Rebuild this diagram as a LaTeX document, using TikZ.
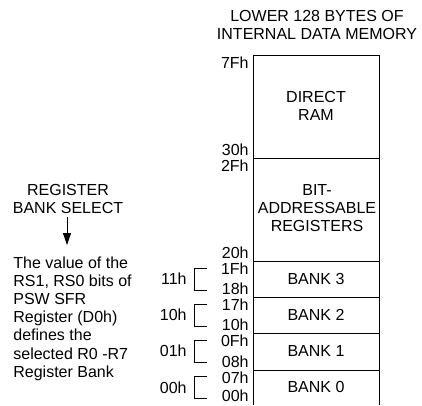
\documentclass[tikz,border=0pt]{standalone}
\usepackage{fontspec}
\setmainfont{Liberation Sans}
\usetikzlibrary{arrows.meta}
\tikzset{
  txt/.style={inner sep=0pt, font=\fontsize{16}{18.2}\selectfont},
  addr/.style={txt, anchor=east},
  area/.style={txt, align=center},
}
\begin{document}
\begin{tikzpicture}[x=1pt,y=-1pt,line width=.8pt]
\useasboundingbox (0,0) rectangle (422,405);
% title
\node[area] (title) at (317,25) {LOWER 128 BYTES OF\\INTERNAL DATA MEMORY};
% memory column
\draw (253,405) -- (253,55) -- (379,55) -- (379,405);
\draw (253,158) -- (379,158) (253,261) -- (379,261) (253,297) -- (379,297)
  (253,333) -- (379,333) (253,370) -- (379,370);
\node[area] (direct) at (316,106) {DIRECT\\RAM};
\node[area] (bitaddr) at (317,208) {BIT-\\ADDRESSABLE\\REGISTERS};
\node[area] (bank3) at (316,279) {BANK 3};
\node[area] (bank2) at (316,315) {BANK 2};
\node[area] (bank1) at (316,351) {BANK 1};
\node[area] (bank0) at (316,387) {BANK 0};
% addresses
\node[addr] (a7F) at (249,63) {7Fh}; \node[addr] (a30) at (249,150) {30h};
\node[addr] (a2F) at (249,166) {2Fh}; \node[addr] (a20) at (249,253) {20h};
\node[addr] (a1F) at (249,269) {1Fh}; \node[addr] (a18) at (249,289) {18h};
\node[addr] (a17) at (249,305) {17h}; \node[addr] (a10) at (249,325) {10h};
\node[addr] (a0F) at (249,341) {0Fh}; \node[addr] (a08) at (249,362) {08h};
\node[addr] (a07) at (249,378) {07h}; \node[addr] (a00) at (249,396) {00h};
% bank select brackets
\draw (207,268) -- (194,268) -- (194,290) -- (207,290); \node[addr] (s11) at (187,279) {11h};
\draw (207,304) -- (194,304) -- (194,326) -- (207,326); \node[addr] (s10) at (187,315) {10h};
\draw (207,340) -- (194,340) -- (194,362) -- (207,362); \node[addr] (s01) at (187,351) {01h};
\draw (207,376) -- (194,376) -- (194,398) -- (207,398); \node[addr] (s00) at (187,388) {00h};
% register bank select
\node[area] (select) at (68,199) {REGISTER\\BANK SELECT};
\coordinate (tip) at (67,245);
\draw[-{Triangle[width=8pt,length=12pt]}] (select.south -| tip) ++(0,3) -- (tip);
\node[txt, align=left, anchor=north west] (value) at (13,256)
  {The value of the\\RS1, RS0 bits of\\PSW SFR\\Register (D0h)\\defines the\\selected R0 -R7\\Register Bank};
\end{tikzpicture}
\end{document}
